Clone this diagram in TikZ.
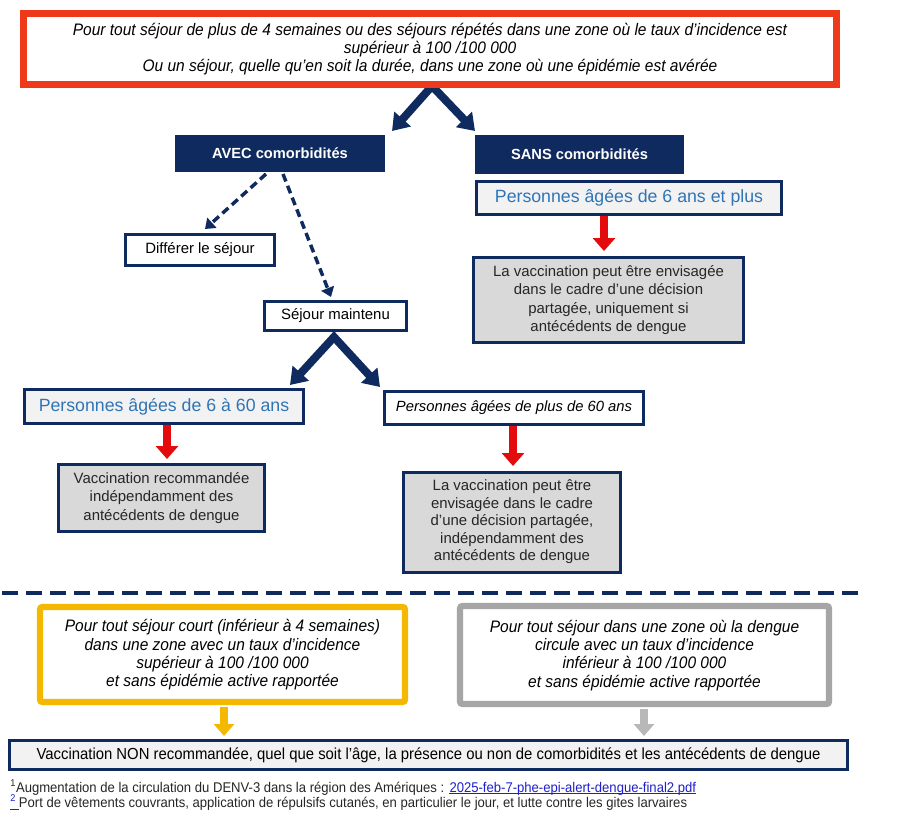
\documentclass[tikz,border=0pt]{standalone}
\usepackage{fontspec}
\setmainfont{Liberation Sans}
\newfontfamily\narrow[FakeStretch=0.93]{Liberation Sans}
\usetikzlibrary{arrows.meta}
\definecolor{navy}{HTML}{0E2A5E}
\definecolor{topred}{HTML}{EE3A1A}
\definecolor{arrred}{HTML}{E30B0B}
\definecolor{ageblue}{HTML}{2F75B5}
\definecolor{boxgray}{HTML}{D9D9D9}
\definecolor{lightfill}{HTML}{F2F2F2}
\definecolor{yel}{HTML}{F5B800}
\definecolor{grayb}{HTML}{A6A6A6}
\definecolor{linkblue}{HTML}{1F1FCC}
\begin{document}
\begin{tikzpicture}[x=0.75pt,y=-0.75pt,
  wh/.style 2 args={minimum width=#1*0.75pt, minimum height=#2*0.75pt, inner sep=0pt},
  topbox/.style={draw=topred, line width=5.25pt, fill=white, align=center,
    font=\narrow\itshape\fontsize{12.5}{13.7}\selectfont},
  navybox/.style={fill=navy, text=white, font=\bfseries\fontsize{11}{13}\selectfont},
  outbox/.style={draw=navy, line width=2.25pt, fill=white, font=\fontsize{11.2}{13}\selectfont},
  agebox/.style={draw=navy, line width=2.25pt, fill=lightfill, text=ageblue, font=\fontsize{13.3}{15}\selectfont},
  grbox/.style={draw=navy, line width=2.25pt, fill=boxgray, align=center, text=black!85},
  condbox/.style={line width=4.8pt, fill=white, rounded corners=2pt, align=center,
    font=\narrow\itshape\fontsize{12.5}{13.7}\selectfont},
  chev/.style={draw=navy, line width=6pt, line join=miter,
    {Triangle[width=16pt,length=12pt]}-{Triangle[width=16pt,length=12pt]}},
  dasharr/.style={draw=navy, line width=2.6pt, dash pattern=on 6pt off 3.5pt,
    -{Triangle[width=10pt,length=7pt]}},
  blockarr/.style={draw=#1, line width=6.5pt, -{Triangle[width=16.5pt,length=9.75pt]}},
  fnote/.style={inner sep=0pt, font=\narrow\fontsize{10.55}{11}\selectfont, text=black!85},
  uline/.style={draw=linkblue, line width=0.6pt}
]
\useasboundingbox (0,0) rectangle (907,821);
\fill[white] (0,0) rectangle (907,821);

% chevron under the top box
\coordinate (apex1) at (432,86);
\coordinate (tipL1) at (392,131);
\coordinate (tipR1) at (475,131);
\draw[chev] (tipL1) -- (apex1) -- (tipR1);

% top box
\node[topbox, wh={813}{71}] (top) at (430,49)
 {Pour tout séjour de plus de 4 semaines ou des séjours répétés dans une zone où le taux d’incidence est\\
  supérieur à 100 /100 000\\
  Ou un séjour, quelle qu’en soit la durée, dans une zone où une épidémie est avérée};

\node[navybox, wh={210}{37}] (avec) at (280,153.5) {AVEC comorbidités};
\node[navybox, wh={209}{39}] (sans) at (579.5,154.5) {SANS comorbidités};

% right branch
\node[agebox, wh={305}{33}] (p6plus) at (629,198) {Personnes âgées de 6 ans et plus};
\node[grbox, wh={270}{85}, font=\fontsize{11.2}{13.9}\selectfont] (vacc1) at (608.5,300)
 {La vaccination peut être envisagée\\dans le cadre d’une décision\\partagée, uniquement si\\antécédents de dengue};
\draw[blockarr=arrred] (p6plus.south -| 604,0) -- (604,251);

% left branch
\node[outbox, wh={149}{31}] (diff) at (200,250) {Différer le séjour};
\node[outbox, wh={142}{29}] (maint) at (335.5,316) {Séjour maintenu};
\coordinate (d1s) at (266,174);
\coordinate (d2s) at (283,174);
\draw[dasharr] (d1s) -- (205,229);
\draw[dasharr] (d2s) -- (331,297);

\coordinate (apex2) at (334,337);
\coordinate (tipL2) at (290,385);
\coordinate (tipR2) at (380,387);
\draw[chev] (tipL2) -- (apex2) -- (tipR2);

\node[agebox, wh={279}{34}] (p660) at (164,406.5) {Personnes âgées de 6 à 60 ans};
\node[outbox, wh={259}{33}, font=\itshape\fontsize{11.1}{13}\selectfont] (pplus60) at (514,408) {Personnes âgées de plus de 60 ans};

\node[grbox, wh={206}{67}, font=\fontsize{11.2}{13.9}\selectfont] (vacc2) at (161.5,498)
 {Vaccination recommandée\\indépendamment des\\antécédents de dengue};
\node[grbox, wh={217}{100}, font=\fontsize{11.2}{13.1}\selectfont] (vacc3) at (512,522)
 {La vaccination peut être\\envisagée dans le cadre\\d’une décision partagée,\\indépendamment des\\antécédents de dengue};
\draw[blockarr=arrred] (167,425) -- (167,459);
\draw[blockarr=arrred] (513,426) -- (513,466);

% separator
\draw[navy, line width=2.4pt, dash pattern=on 12pt off 6pt] (2,593) -- (860,593);

% bottom
\node[condbox, draw=yel, wh={365}{95}] (short) at (222.5,654.5)
 {\strut Pour tout séjour court (inférieur à 4 semaines)\\dans une zone avec un taux d’incidence\\supérieur à 100 /100 000\\et sans épidémie active rapportée};
\node[condbox, draw=grayb, wh={369}{98}] (low) at (644.5,655)
 {\strut Pour tout séjour dans une zone où la dengue\\circule avec un taux d’incidence\\inférieur à 100 /100 000\\et sans épidémie active rapportée};
\node[draw=navy, line width=2.25pt, fill=lightfill, wh={838}{29}, font=\narrow\fontsize{12}{13}\selectfont] (non) at (428.5,755)
 {Vaccination NON recommandée, quel que soit l’âge, la présence ou non de comorbidités et les antécédents de dengue};
\draw[draw=yel, line width=5.5pt, -{Triangle[width=15pt,length=9pt]}] (short.south -| 224,0) ++(0,2) -- (224,736);
\draw[draw=grayb!80, line width=5.5pt, -{Triangle[width=15pt,length=9pt]}] (low.south -| 644,0) ++(0,2) -- (644,736);

% footnotes
\node[fnote, anchor=base west] (fn1) at (10,792)
 {\textsuperscript{1}Augmentation de la circulation du DENV-3 dans la région des Amériques :};
\node[fnote, anchor=base west, text=linkblue] (link1) at ([xshift=3.5pt]fn1.base east) {2025-feb-7-phe-epi-alert-dengue-final2.pdf};
\draw[uline] ([yshift=1.2pt]link1.south west) -- ([yshift=1.2pt]link1.south east);
\node[fnote, anchor=base west, text=linkblue] (n2) at (10,807) {\textsuperscript{2}\,};
\draw[uline] ([yshift=-1.6pt]n2.base west) -- ([yshift=-1.6pt]n2.base east);
\node[fnote, anchor=base west] (fn2) at (n2.base east)
 {Port de vêtements couvrants, application de répulsifs cutanés, en particulier le jour, et lutte contre les gites larvaires};
\end{tikzpicture}
\end{document}
